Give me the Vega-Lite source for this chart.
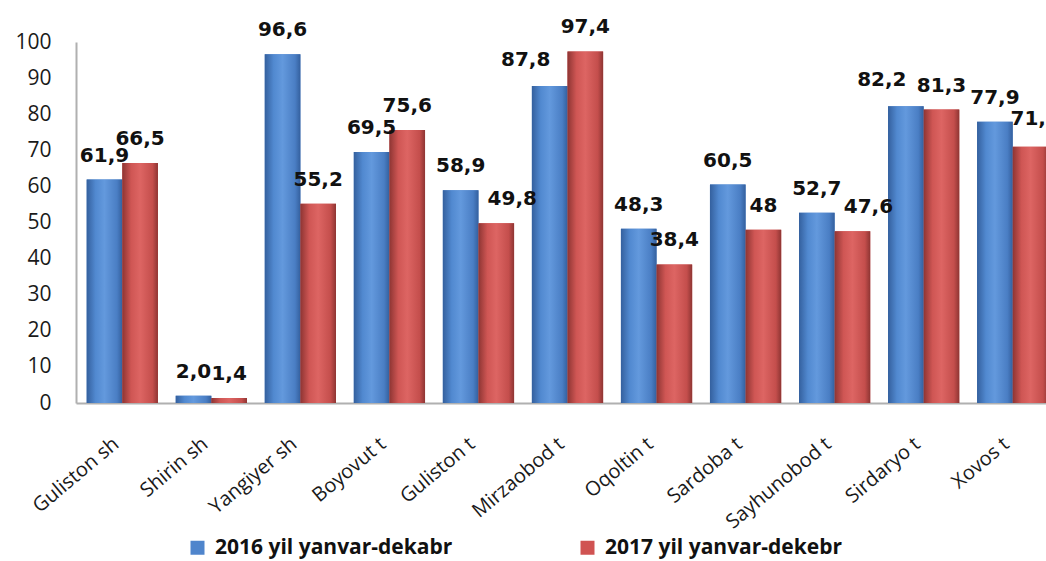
{
  "$schema": "https://vega.github.io/schema/vega-lite/v6.json",
  "autosize": "none",
  "width": 970,
  "height": 361,
  "padding": {"left": 76, "top": 42, "right": 0, "bottom": 158},
  "background": "white",
  "config": {
    "view": {"stroke": null},
    "font": "Open Sans"
  },
  "data": {
    "values": [
      {"cat": "Guliston sh", "series": "2016 yil yanvar-dekabr", "value": 61.9, "label": "61,9"},
      {"cat": "Guliston sh", "series": "2017 yil yanvar-dekebr", "value": 66.5, "label": "66,5"},
      {"cat": "Shirin sh", "series": "2016 yil yanvar-dekabr", "value": 2.0, "label": "2,0"},
      {"cat": "Shirin sh", "series": "2017 yil yanvar-dekebr", "value": 1.4, "label": "1,4"},
      {"cat": "Yangiyer sh", "series": "2016 yil yanvar-dekabr", "value": 96.6, "label": "96,6"},
      {"cat": "Yangiyer sh", "series": "2017 yil yanvar-dekebr", "value": 55.2, "label": "55,2"},
      {"cat": "Boyovut t", "series": "2016 yil yanvar-dekabr", "value": 69.5, "label": "69,5"},
      {"cat": "Boyovut t", "series": "2017 yil yanvar-dekebr", "value": 75.6, "label": "75,6"},
      {"cat": "Guliston t", "series": "2016 yil yanvar-dekabr", "value": 58.9, "label": "58,9"},
      {"cat": "Guliston t", "series": "2017 yil yanvar-dekebr", "value": 49.8, "label": "49,8"},
      {"cat": "Mirzaobod t", "series": "2016 yil yanvar-dekabr", "value": 87.8, "label": "87,8"},
      {"cat": "Mirzaobod t", "series": "2017 yil yanvar-dekebr", "value": 97.4, "label": "97,4"},
      {"cat": "Oqoltin t", "series": "2016 yil yanvar-dekabr", "value": 48.3, "label": "48,3"},
      {"cat": "Oqoltin t", "series": "2017 yil yanvar-dekebr", "value": 38.4, "label": "38,4"},
      {"cat": "Sardoba t", "series": "2016 yil yanvar-dekabr", "value": 60.5, "label": "60,5"},
      {"cat": "Sardoba t", "series": "2017 yil yanvar-dekebr", "value": 48, "label": "48"},
      {"cat": "Sayhunobod t", "series": "2016 yil yanvar-dekabr", "value": 52.7, "label": "52,7"},
      {"cat": "Sayhunobod t", "series": "2017 yil yanvar-dekebr", "value": 47.6, "label": "47,6"},
      {"cat": "Sirdaryo t", "series": "2016 yil yanvar-dekabr", "value": 82.2, "label": "82,2"},
      {"cat": "Sirdaryo t", "series": "2017 yil yanvar-dekebr", "value": 81.3, "label": "81,3"},
      {"cat": "Xovos t", "series": "2016 yil yanvar-dekabr", "value": 77.9, "label": "77,9"},
      {"cat": "Xovos t", "series": "2017 yil yanvar-dekebr", "value": 71.0, "label": "71,"}
    ]
  },
  "encoding": {
    "x": {
      "field": "cat", "type": "nominal", "sort": null, "title": null,
      "scale": {"paddingInner": 0.2, "paddingOuter": 0.12, "range": [0, 983]},
      "axis": {
        "labelAngle": -40, "labelAlign": "right", "labelBaseline": "middle",
        "labelFontSize": 20, "labelColor": "#1a1a1a", "labelPadding": 38, "labelOffset": -6,
        "ticks": false, "domainColor": "#b0b0b0", "domainWidth": 2, "labelLimit": 220
      }
    },
    "xOffset": {"field": "series", "type": "nominal"},
    "y": {
      "field": "value", "type": "quantitative", "title": null,
      "scale": {"domain": [0, 100], "nice": false},
      "axis": {
        "values": [0,10,20,30,40,50,60,70,80,90,100],
        "grid": false, "ticks": false, "labelFontSize": 21, "labelColor": "#1a1a1a",
        "labelPadding": 25, "domainColor": "#b0b0b0", "domainWidth": 2
      }
    }
  },
  "layer": [
    {
      "mark": {"type": "bar"},
      "encoding": {
        "color": {
          "field": "series", "type": "nominal",
          "scale": {"range": ["#4F85CC", "#D05352"]},
          "legend": {
            "title": null, "orient": "none", "direction": "horizontal",
            "legendX": 111, "legendY": 495,
            "symbolType": "square", "symbolSize": 196, "symbolStrokeWidth": 0,
            "labelFontSize": 21, "labelFontWeight": "bold", "labelColor": "#111",
            "columnPadding": 124, "labelLimit": 500, "labelOffset": 7
          }
        }
      }
    },
    {
      "mark": {"type": "bar"},
      "encoding": {
        "fill": {
          "condition": {
            "test": "datum.series === '2016 yil yanvar-dekabr'",
            "value": {"gradient": "linear", "x1": 0, "y1": 0, "x2": 1, "y2": 0, "stops": [
              {"offset": 0, "color": "#34609E"},
              {"offset": 0.25, "color": "#5189D0"},
              {"offset": 0.5, "color": "#6399DD"},
              {"offset": 0.85, "color": "#4A7EC4"},
              {"offset": 1, "color": "#34609E"}
            ]}
          },
          "value": {"gradient": "linear", "x1": 0, "y1": 0, "x2": 1, "y2": 0, "stops": [
            {"offset": 0, "color": "#8E3533"},
            {"offset": 0.25, "color": "#CF5654"},
            {"offset": 0.5, "color": "#DD6563"},
            {"offset": 0.85, "color": "#C44E4C"},
            {"offset": 1, "color": "#8E3533"}
          ]}
        }
      }
    },
    {
      "transform": [{"filter": {"not": {"field": "label", "oneOf": ["82,2", "87,8", "49,8", "47,6", "71,"]}}}],
      "mark": {"type": "text", "baseline": "alphabetic", "dy": -18, "fontSize": 20, "fontWeight": "bold", "font": "DejaVu Sans", "color": "#111"},
      "encoding": {"text": {"field": "label"}}
    },
    {
      "transform": [{"filter": {"field": "label", "oneOf": ["82,2", "87,8"]}}],
      "mark": {"type": "text", "baseline": "alphabetic", "dx": -24, "dy": -20, "fontSize": 20, "fontWeight": "bold", "font": "DejaVu Sans", "color": "#111"},
      "encoding": {"text": {"field": "label"}}
    },
    {
      "transform": [{"filter": {"field": "label", "oneOf": ["49,8", "47,6"]}}],
      "mark": {"type": "text", "baseline": "alphabetic", "dx": 16, "dy": -18, "fontSize": 20, "fontWeight": "bold", "font": "DejaVu Sans", "color": "#111"},
      "encoding": {"text": {"field": "label"}}
    },
    {
      "transform": [{"filter": {"field": "label", "oneOf": ["71,"]}}],
      "mark": {"type": "text", "baseline": "alphabetic", "align": "left", "dx": -20, "dy": -22, "fontSize": 20, "fontWeight": "bold", "font": "DejaVu Sans", "color": "#111"},
      "encoding": {"text": {"field": "label"}}
    }
  ]
}
